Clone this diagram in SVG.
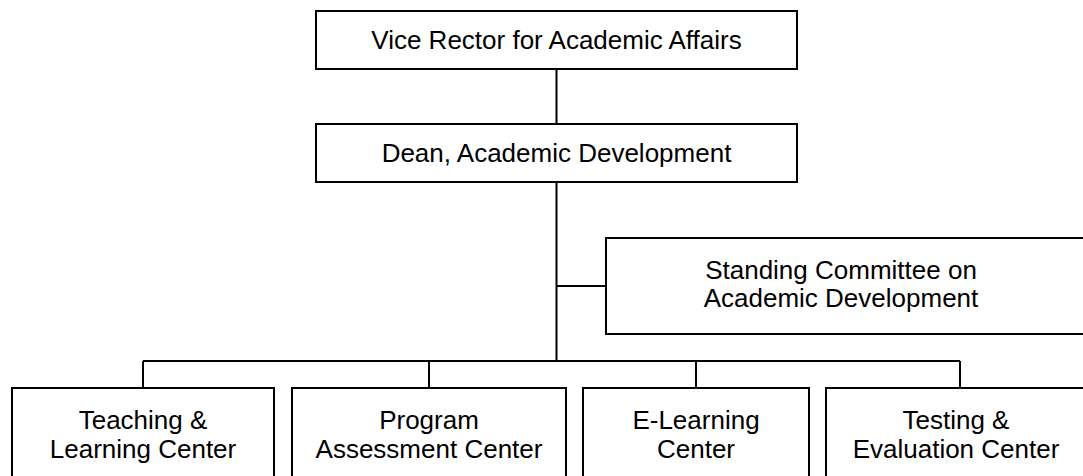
<svg xmlns="http://www.w3.org/2000/svg" width="1083" height="476" viewBox="0 0 1083 476">
<style>
.box{fill:#fff;stroke:#000;stroke-width:2}
.ln{fill:none;stroke:#000;stroke-width:2}
text{font-family:"Liberation Sans",Arial,sans-serif;font-size:26px;fill:#000;text-anchor:middle}
</style>
<rect width="1083" height="476" fill="#fff"/>
<g id="connectors">
<path class="ln" d="M556.5 69V124M556.5 182V361M556.5 286H606M143 361H960M143 361V388M429 361V388M696 361V388M960 361V388"/>
</g>
<g id="vice-rector">
<rect class="box" x="316" y="11" width="481" height="58"/>
<text x="556.5" y="49">Vice Rector for Academic Affairs</text>
</g>
<g id="dean">
<rect class="box" x="316" y="124" width="481" height="58"/>
<text x="556.5" y="162">Dean, Academic Development</text>
</g>
<g id="standing-committee">
<rect class="box" x="606" y="238" width="490" height="96"/>
<text x="841" y="279">Standing Committee on</text>
<text x="841" y="307">Academic Development</text>
</g>
<g id="teaching">
<rect class="box" x="12" y="388" width="262" height="100"/>
<text x="143" y="429">Teaching &amp;</text>
<text x="143" y="458">Learning Center</text>
</g>
<g id="program">
<rect class="box" x="292" y="388" width="274" height="100"/>
<text x="429" y="429">Program</text>
<text x="429" y="458">Assessment Center</text>
</g>
<g id="elearning">
<rect class="box" x="583" y="388" width="226" height="100"/>
<text x="696" y="429">E-Learning</text>
<text x="696" y="458">Center</text>
</g>
<g id="testing">
<rect class="box" x="826" y="388" width="268" height="100"/>
<text x="956" y="429">Testing &amp;</text>
<text x="956" y="458">Evaluation Center</text>
</g>
</svg>
